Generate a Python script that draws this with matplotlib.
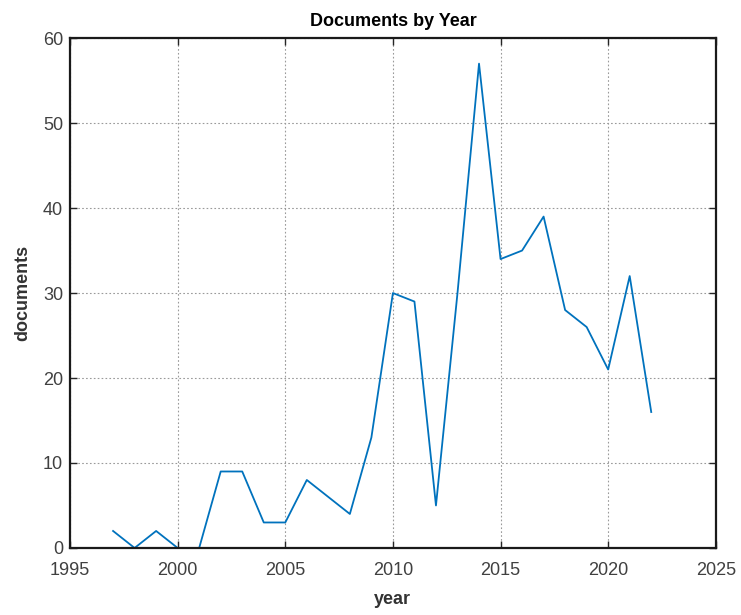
import matplotlib
matplotlib.use("Agg")
import matplotlib.pyplot as plt

# documents per year
years = [1997, 1998, 1999, 2000, 2001, 2002, 2003, 2004, 2005, 2006, 2007, 2008, 2009,
         2010, 2011, 2012, 2013, 2014, 2015, 2016, 2017, 2018, 2019, 2020, 2021, 2022]
documents = [2, 0, 2, 0, 0, 9, 9, 3, 3, 8, 6, 4, 13,
             30, 29, 5, 30, 57, 34, 35, 39, 28, 26, 21, 32, 16]

plt.rcParams['font.family'] = ['Liberation Sans', 'DejaVu Sans']

fig = plt.figure(figsize=(7.41, 6.15), dpi=100)
ax = fig.add_axes([0.0945, 0.109, 0.8715, 0.829])

ax.plot(years, documents, color='#0072BD', linewidth=1.3)

ax.set_xlim(1995, 2025)
ax.set_ylim(0, 60)
ax.set_xticks(range(1995, 2026, 5))
ax.set_yticks(range(0, 61, 10))

ax.grid(True, color='#9a9a9a', linestyle=(0, (1.5, 2)), linewidth=0.8)
ax.tick_params(direction='in', length=5, width=1, labelsize=13, colors='#262626',
               top=True, right=True, labelcolor='#404040')
ax.tick_params(axis='x', pad=10)
ax.tick_params(axis='y', pad=5)
for s in ax.spines.values():
    s.set_linewidth(1.6)
    s.set_color('#1a1a1a')

ax.set_title('Documents by Year', fontsize=13, fontweight='bold', pad=9)
ax.set_xlabel('year', fontsize=13, fontweight='bold', color='#333333', labelpad=9)
ax.set_ylabel('documents', fontsize=13, fontweight='bold', color='#333333', labelpad=8)

fig.savefig('out.png', dpi=100)
